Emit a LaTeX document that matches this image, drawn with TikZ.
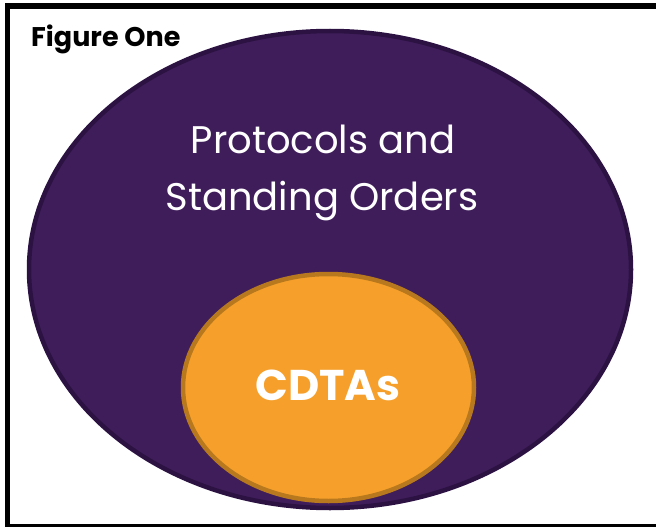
\documentclass[tikz,border=0pt]{standalone}
\usepackage{fontspec}
\setmainfont{Poppins}
\usetikzlibrary{shapes.geometric}
\definecolor{outerfill}{HTML}{3F1D5A}
\definecolor{outerline}{HTML}{2C1242}
\definecolor{innerfill}{HTML}{F6A02B}
\definecolor{innerline}{HTML}{B8791E}
\tikzset{
  outerell/.style={ellipse, draw=outerline, fill=outerfill, line width=4.5pt, inner sep=0pt},
  innerell/.style={ellipse, draw=innerline, fill=innerfill, line width=4.5pt, inner sep=0pt},
  frameline/.style={draw=black, line width=5.5pt},
  bigtext/.style={text=white, font=\fontsize{38.5}{47}\selectfont, anchor=base, inner sep=0pt},
  boldtext/.style={text=white, font=\bfseries\fontsize{43}{52}\selectfont, anchor=base, inner sep=0pt},
  titletext/.style={text=black, font=\bfseries\fontsize{27}{32}\selectfont, anchor=base west, inner sep=0pt}
}
\begin{document}
\begin{tikzpicture}[x=1pt,y=-1pt]
\useasboundingbox (0,0) rectangle (656,527);
\fill[white] (0,0) rectangle (656,527);
\draw[frameline] (7.5,5.8) rectangle (680,526.5);
\node[titletext] (title) at (31,47) {Figure One};
\node[outerell, minimum width=602pt, minimum height=477pt] (outer) at (330,269.5) {};
\node[innerell, minimum width=291pt, minimum height=227pt] (inner) at (328.5,387.5) {};
\node[bigtext] (l1) at (323,153) {Protocols and};
\node[bigtext] (l2) at (322,210) {Standing Orders};
\node[boldtext] (cdtas) at (328,400) {CDTAs};
\end{tikzpicture}
\end{document}
